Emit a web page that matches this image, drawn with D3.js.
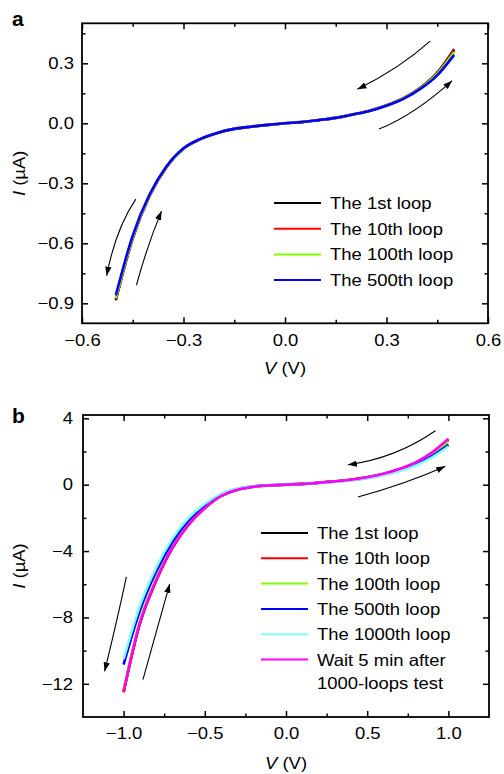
<!DOCTYPE html>
<html>
<head>
<meta charset="utf-8">
<script src="https://cdn.jsdelivr.net/npm/d3@7"></script>
<style>
body { margin: 0; background: #fff; }
text { font-family: "Liberation Sans", Arial, Helvetica, sans-serif; fill: #000; }
</style>
</head>
<body>
<svg id="chart"></svg>
<script>
// ---- panel a: I-V loops, +/-0.5 V sweep ----
const voltsA = [-0.5, -0.45, -0.4, -0.35, -0.3, -0.25, -0.2, -0.15, -0.1, -0.05, 0,
                0.05, 0.1, 0.15, 0.2, 0.25, 0.3, 0.35, 0.4, 0.45, 0.5];
const loop1A   = [-0.885, -0.575, -0.362, -0.218, -0.127, -0.079, -0.048, -0.028, -0.017, -0.008, 0,
                  0.006, 0.016, 0.027, 0.044, 0.063, 0.09, 0.126, 0.178, 0.253, 0.37];
const loop10A  = [-0.88, -0.572, -0.36, -0.217, -0.126, -0.079, -0.048, -0.028, -0.017, -0.008, 0,
                  0.006, 0.016, 0.027, 0.044, 0.063, 0.09, 0.125, 0.176, 0.25, 0.365];
const loop100A = [-0.875, -0.568, -0.358, -0.216, -0.126, -0.078, -0.048, -0.028, -0.017, -0.008, 0,
                  0.006, 0.016, 0.027, 0.044, 0.062, 0.089, 0.124, 0.175, 0.247, 0.355];
const loop500A = [-0.86, -0.56, -0.355, -0.215, -0.125, -0.078, -0.048, -0.028, -0.017, -0.008, 0,
                  0.006, 0.016, 0.027, 0.044, 0.062, 0.088, 0.122, 0.172, 0.24, 0.342];
const labelsA = ["The 1st loop", "The 10th loop", "The 100th loop", "The 500th loop"];
const xTicksA = [-0.6, -0.3, 0, 0.3, 0.6];
const yTicksA = [-0.9, -0.6, -0.3, 0, 0.3];
// sweep-direction arrows, [start, control, end] in data units
const arrowsA = [
  [[0.429, 0.411], [0.34, 0.276], [0.214, 0.17]],
  [[0.278, -0.029], [0.382, 0.041], [0.494, 0.213]],
  [[-0.441, -0.379], [-0.501, -0.53], [-0.527, -0.762]],
  [[-0.439, -0.809], [-0.407, -0.61], [-0.365, -0.439]]
];

// ---- panel b: I-V loops, +/-1.0 V sweep ----
const voltsB = [-1.0, -0.9, -0.8, -0.7, -0.6, -0.5, -0.4, -0.3, -0.2, -0.1, 0,
                0.1, 0.2, 0.3, 0.4, 0.5, 0.6, 0.7, 0.8, 0.9, 1.0];
const loop1B    = [-12.5, -8.38, -5.8, -3.82, -2.41, -1.41, -0.69, -0.3, -0.12, -0.04, 0,
                   0.05, 0.12, 0.2, 0.3, 0.45, 0.65, 0.94, 1.33, 1.91, 2.72];
const loop10B   = [-12.5, -8.35, -5.78, -3.8, -2.4, -1.4, -0.68, -0.3, -0.12, -0.04, 0,
                   0.05, 0.12, 0.2, 0.3, 0.45, 0.65, 0.93, 1.32, 1.9, 2.7];
const loop100B  = [-12.35, -8.22, -5.66, -3.73, -2.36, -1.37, -0.67, -0.29, -0.12, -0.04, 0,
                   0.05, 0.12, 0.2, 0.3, 0.44, 0.64, 0.91, 1.29, 1.85, 2.6];
const loop500B  = [-10.84, -7.6, -5.25, -3.45, -2.15, -1.25, -0.6, -0.26, -0.1, -0.03, 0,
                   0.04, 0.11, 0.18, 0.28, 0.41, 0.6, 0.86, 1.22, 1.73, 2.41];
const loop1000B = [-10.5, -7.3, -5.0, -3.25, -2.0, -1.15, -0.55, -0.24, -0.1, -0.03, 0,
                   0.04, 0.1, 0.17, 0.26, 0.39, 0.57, 0.82, 1.16, 1.65, 2.3];
const waitB     = [-12.45, -8.33, -5.76, -3.8, -2.4, -1.4, -0.68, -0.3, -0.12, -0.04, 0,
                   0.05, 0.12, 0.2, 0.3, 0.45, 0.66, 0.95, 1.35, 1.95, 2.77];
const labelsB = ["The 1st loop", "The 10th loop", "The 100th loop", "The 500th loop",
                 "The 1000th loop", "Wait 5 min after\n1000-loops test"];
const xTicksB = [-1.0, -0.5, 0, 0.5, 1.0];
const yTicksB = [-12, -8, -4, 0, 4];
const arrowsB = [
  [[0.92, 3.25], [0.675, 1.59], [0.381, 1.2]],
  [[0.443, -0.74], [0.736, 0.024], [0.981, 1.105]],
  [[-0.983, -5.56], [-1.04, -8.2], [-1.117, -11.25]],
  [[-0.881, -11.75], [-0.798, -8.86], [-0.716, -5.98]]
];

const width = 504, height = 774;
const fs = 16.5, sx = 1.12;   // text is drawn slightly wide, like the source

const svg = d3.select("#chart").attr("width", width).attr("height", height);

svg.append("defs").append("marker")
    .attr("id", "head")
    .attr("markerUnits", "userSpaceOnUse")
    .attr("markerWidth", 10).attr("markerHeight", 8)
    .attr("refX", 9).attr("refY", 4)
    .attr("orient", "auto")
  .append("path")
    .attr("d", "M0,0.8 L9,4 L0,7.2 Z")
    .attr("fill", "#000");

function wideText(sel) {
  sel.each(function() {
    const t = d3.select(this);
    const x = +t.attr("x") || 0;
    t.attr("x", x / sx).attr("transform", `scale(${sx},1)`);
  });
}

function addText(g, x, y, str) {
  return g.append("text")
    .attr("transform", `translate(${x},${y}) scale(${sx},1)`)
    .attr("font-size", fs)
    .text(str);
}

function panel(o) {
  const x = d3.scaleLinear().domain(o.xDomain).range([o.left, o.right]);
  const y = d3.scaleLinear().domain(o.yDomain).range([o.bottom, o.top]);
  const g = svg.append("g");

  // curves
  const line = d3.line()
      .x((d, i) => x(o.volts[i]))
      .y(d => y(d))
      .curve(d3.curveMonotoneX);
  o.series.forEach((s, k) => {
    g.append("path")
        .datum(s)
        .attr("d", line)
        .attr("fill", "none")
        .attr("stroke", o.colors[k])
        .attr("stroke-width", 2.6);
  });

  // sweep arrows
  o.arrows.forEach(a => {
    const [p0, c, p1] = a;
    g.append("path")
        .attr("d", `M${x(p0[0])},${y(p0[1])} Q${x(c[0])},${y(c[1])} ${x(p1[0])},${y(p1[1])}`)
        .attr("fill", "none")
        .attr("stroke", "#000")
        .attr("stroke-width", 1.1)
        .attr("marker-end", "url(#head)");
  });

  // axes: major + minor ticks on all four sides, pointing inward
  const half = (ticks, dom) => {
    const step = (ticks[1] - ticks[0]) / 2;
    return d3.range(ticks[0] - step, ticks[ticks.length - 1] + step * 1.01, step * 2)
        .filter(v => v > dom[0] + 1e-9 && v < dom[1] - 1e-9);
  };
  const minorX = half(o.xTicks, o.xDomain);
  const minorY = half(o.yTicks, o.yDomain);
  const sides = [
    [d3.axisBottom(x), `translate(0,${o.bottom})`, o.xTicks, minorX, true, o.xFormat, o.xPad],
    [d3.axisTop(x), `translate(0,${o.top})`, o.xTicks, minorX, false],
    [d3.axisLeft(y), `translate(${o.left},0)`, o.yTicks, minorY, true, o.yFormat, o.yPad],
    [d3.axisRight(y), `translate(${o.right},0)`, o.yTicks, minorY, false]
  ];
  sides.forEach(([ax, tr, major, minor, labels, fmt, pad]) => {
    const gm = g.append("g").attr("transform", tr)
        .call(ax.tickValues(major).tickSizeInner(-6).tickSizeOuter(0)
          .tickPadding(pad || 8)
          .tickFormat(labels ? d3.format(fmt) : ""));
    gm.select(".domain").remove();
    gm.selectAll("line").attr("stroke-width", 1.5);
    gm.selectAll("text").attr("font-size", fs).attr("font-family", "Liberation Sans, Arial, sans-serif").call(wideText);
    const gn = g.append("g").attr("transform", tr)
        .call(ax.tickValues(minor).tickSizeInner(-3.5).tickFormat(""));
    gn.select(".domain").remove();
    gn.selectAll("line").attr("stroke-width", 1.5);
  });

  g.append("rect")
      .attr("x", o.left).attr("y", o.top)
      .attr("width", o.right - o.left).attr("height", o.bottom - o.top)
      .attr("fill", "none").attr("stroke", "#000").attr("stroke-width", 1.8);

  // axis titles
  const xt = addText(g, (o.left + o.right) / 2, o.xTitleY, "").attr("text-anchor", "middle");
  xt.append("tspan").attr("font-style", "italic").text("V");
  xt.append("tspan").text(" (V)");
  const yt = g.append("text")
      .attr("transform", `translate(${o.yTitleX},${(o.top + o.bottom) / 2}) rotate(-90) scale(${sx},1)`)
      .attr("font-size", fs)
      .attr("text-anchor", "middle");
  yt.append("tspan").attr("font-style", "italic").text("I");
  yt.append("tspan").text(" (\u00b5A)");

  // panel letter
  g.append("text")
      .attr("x", 12).attr("y", o.letterY)
      .attr("font-size", 21).attr("font-weight", "bold")
      .text(o.letter);

  // legend
  o.labels.forEach((lab, k) => {
    const ly = o.legendY + k * o.legendStep;
    g.append("line")
        .attr("x1", o.legendX).attr("x2", o.legendX + 47)
        .attr("y1", ly).attr("y2", ly)
        .attr("stroke", o.colors[k]).attr("stroke-width", 2);
    lab.split("\n").forEach((part, j) => {
      addText(g, o.legendX + 56, ly + 6 + j * 23, part);
    });
  });
}

panel({
  left: 82, right: 488, top: 23.3, bottom: 323.3,
  xDomain: [-0.6, 0.6], yDomain: [-1.0, 0.5],
  volts: voltsA,
  series: [loop1A, loop10A, loop100A, loop500A],
  colors: ["#000000", "#ff0000", "#80ff00", "#0000ff"],
  labels: labelsA,
  arrows: arrowsA,
  xTicks: xTicksA, yTicks: yTicksA,
  xFormat: ".1f", yFormat: ".1f", xPad: 11, yPad: 8,
  xTitleY: 374, yTitleX: 25,
  letter: "a", letterY: 26,
  legendX: 274, legendY: 203, legendStep: 25.7
});

panel({
  left: 83, right: 489, top: 415, bottom: 717,
  xDomain: [-1.25, 1.25], yDomain: [-14, 4.2],
  volts: voltsB,
  series: [loop1B, loop10B, loop100B, loop500B, loop1000B, waitB],
  colors: ["#000000", "#ff0000", "#80ff00", "#0000ff", "#80ffff", "#ff00ff"],
  labels: labelsB,
  arrows: arrowsB,
  xTicks: xTicksB, yTicks: yTicksB,
  xFormat: ".1f", yFormat: "d", xPad: 10, yPad: 10,
  xTitleY: 769, yTitleX: 25,
  letter: "b", letterY: 423,
  legendX: 261, legendY: 533, legendStep: 25.3
});
</script>
</body>
</html>
